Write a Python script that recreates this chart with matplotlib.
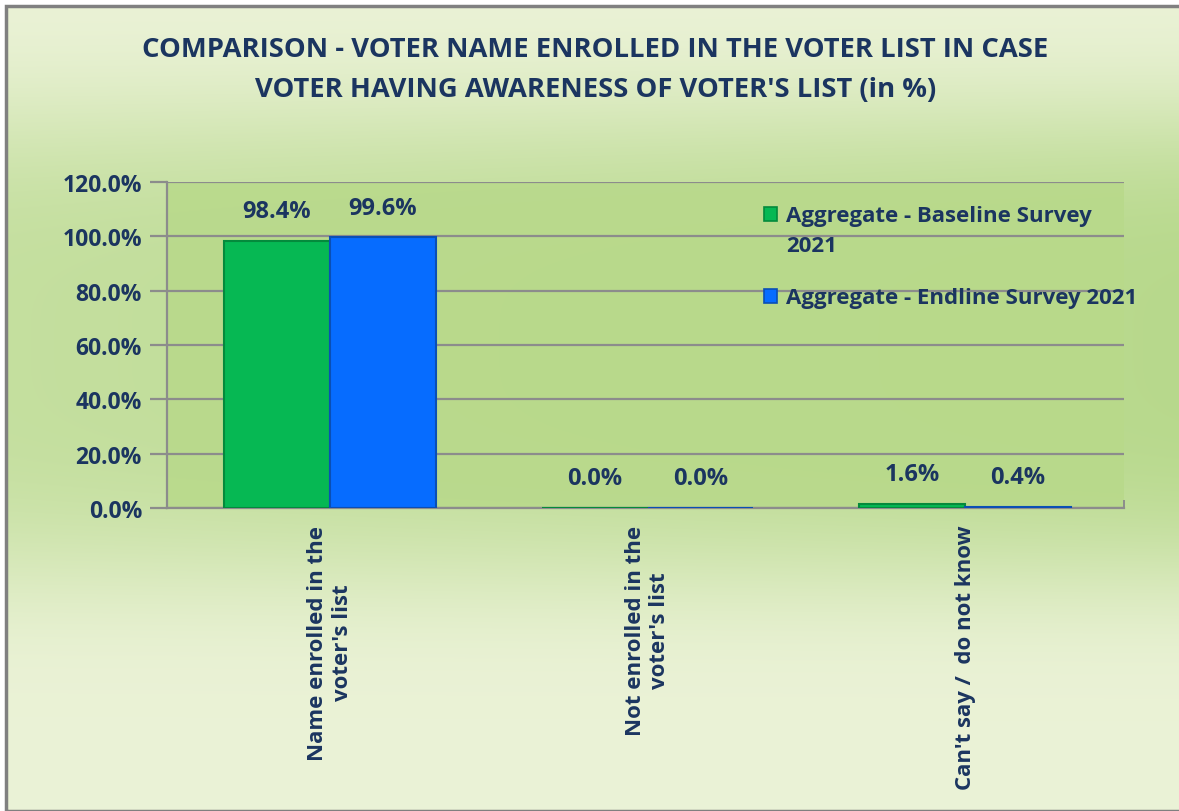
import numpy as np
import matplotlib.pyplot as plt
from matplotlib.patches import Rectangle

# Datos
categorias = ["Name enrolled in the\nvoter's list",
              "Not enrolled in the\nvoter's list",
              "Can't say /  do not know"]
baseline = [98.4, 0.0, 1.6]
endline = [99.6, 0.0, 0.4]
series = ["Aggregate - Baseline Survey\n2021", "Aggregate - Endline Survey 2021"]
yticks = [0, 20, 40, 60, 80, 100, 120]

NAVY = "#1b3560"
GRID = "#8c8c8c"
VERDE, VERDE_BORDE = "#06b853", "#048a3c"
AZUL, AZUL_BORDE = "#066cff", "#0a4fb5"
FONT = ["Open Sans", "DejaVu Sans"]

fig = plt.figure(figsize=(11.79, 8.12), dpi=100)
fig.patch.set_facecolor("white")

# Fondo degradado verde
H, W = 812, 1179
yy, xx = np.mgrid[0:H, 0:W] / np.array([H, W])[:, None, None]
light = np.array([0.92, 0.95, 0.84])
green = np.array([0.72, 0.85, 0.55])
t = np.clip(np.exp(-((yy - 0.42) / 0.30) ** 4), 0, 1)
t = t * (0.75 + 0.25 * xx)
bg = light[None, None, :] * (1 - t[..., None]) + green[None, None, :] * t[..., None]
bg_ax = fig.add_axes([7 / W, 0, 1 - 7 / W, 1 - 8 / H])
bg_ax.imshow(bg, aspect="auto", extent=[0, 1, 0, 1], origin="upper")
bg_ax.set_axis_off()
fig.add_artist(Rectangle((6 / W, 0), 1, 1 - 7 / H, transform=fig.transFigure,
                         fill=False, edgecolor="#808080", linewidth=2.5))

# Area del grafico
ax = fig.add_axes([167 / W, 1 - 509 / H, (1124 - 167) / W, (509 - 183) / H])
ax.set_facecolor((0.72, 0.85, 0.54, 0.85))

x = np.arange(len(categorias))
w = 0.333
b1 = ax.bar(x - w / 2, baseline, w, color=VERDE, edgecolor=VERDE_BORDE,
            linewidth=1.5, zorder=3)
b2 = ax.bar(x + w / 2, endline, w, color=AZUL, edgecolor=AZUL_BORDE,
            linewidth=1.5, zorder=3)

for bars, vals in ((b1, baseline), (b2, endline)):
    for rect, v in zip(bars, vals):
        ax.text(rect.get_x() + rect.get_width() / 2, v + 6.5, f"{v:.1f}%",
                ha="center", va="bottom", fontsize=17, fontweight="bold",
                color=NAVY, family=FONT)

ax.set_ylim(0, 120)
ax.set_xlim(-0.513, 2.50)
ax.set_yticks(yticks)
ax.set_yticklabels([f"{v:.1f}%" for v in yticks], fontsize=16.5,
                   fontweight="bold", color=NAVY, family=FONT)
ax.yaxis.grid(True, color=GRID, linewidth=1.6, zorder=0)
ax.set_axisbelow(True)
ax.tick_params(axis="y", length=12, width=1.6, color=GRID, pad=6)

ax.set_xticks(x)
ax.set_xticklabels(categorias, rotation=90, fontsize=16, fontweight="bold",
                   color=NAVY, family=FONT, va="top", ha="center",
                   multialignment="center")
ax.tick_params(axis="x", length=0, pad=12)
ax.set_xticks([1, 2, 2.5], minor=True)
ax.tick_params(axis="x", which="minor", length=6, width=1.4, color=GRID,
               direction="in")

for side in ("top", "right"):
    ax.spines[side].set_visible(False)
for side in ("left", "bottom"):
    ax.spines[side].set_color(GRID)
    ax.spines[side].set_linewidth(1.6)

# Leyenda
for (fy, label, fc, ec) in ((0.902, series[0], VERDE, VERDE_BORDE),
                            (0.650, series[1], AZUL, AZUL_BORDE)):
    ax.add_patch(Rectangle((0.6235, fy - 0.021), 0.0135, 0.042,
                           transform=ax.transAxes, facecolor=fc,
                           edgecolor=ec, linewidth=1.2, zorder=5))
    ax.text(0.6465, fy + 0.027, label, transform=ax.transAxes, ha="left",
            va="top", fontsize=16, fontweight="bold", color=NAVY,
            family=FONT, linespacing=1.55)

fig.text(0.505, 1 - 50 / H,
         "COMPARISON - VOTER NAME ENROLLED IN THE VOTER LIST IN CASE",
         ha="center", va="center", fontsize=19.7, fontweight="bold",
         color=NAVY, family=FONT)
fig.text(0.505, 1 - 90 / H,
         "VOTER HAVING AWARENESS OF VOTER'S LIST (in %)",
         ha="center", va="center", fontsize=19.7, fontweight="bold",
         color=NAVY, family=FONT)

fig.savefig("out.png", dpi=100)
